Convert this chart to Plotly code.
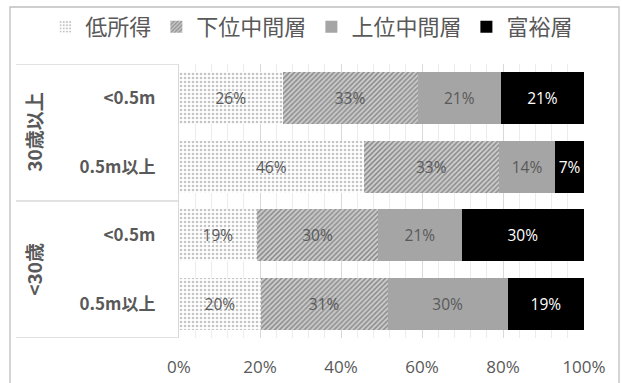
import plotly.graph_objects as go

# ---- data ----
rows = ["<0.5m", "0.5m以上", "<0.5m", "0.5m以上"]
groups = ["30歳以上", "<30歳"]
group_rows = [[0, 1], [2, 3]]
series_names = ["低所得", "下位中間層", "上位中間層", "富裕層"]
low = [25.6, 45.6, 19.2, 20.2]
lowmid = [33.3, 33.4, 30.0, 31.3]
upmid = [20.6, 13.9, 20.6, 29.7]
rich = [20.5, 7.1, 30.2, 18.8]
low_lbl = ["26%", "46%", "19%", "20%"]
lowmid_lbl = ["33%", "33%", "30%", "31%"]
upmid_lbl = ["21%", "14%", "21%", "30%"]
rich_lbl = ["21%", "7%", "30%", "19%"]
x_ticks = [0, 20, 40, 60, 80, 100]
x_ticktext = ["0%", "20%", "40%", "60%", "80%", "100%"]

FONT = "Noto Sans CJK JP, Noto Sans, sans-serif"
NUMFONT = "Open Sans, Noto Sans CJK JP, sans-serif"
GREY_TXT = "#595959"
LINE = "#d9d9d9"

ypos = list(range(len(rows)))

styles = [
    dict(color="white", pattern=dict(shape=".", fgcolor="#8c8c8c", bgcolor="white", size=4, solidity=0.35), tc=GREY_TXT),
    dict(color="white", pattern=dict(shape="/", fgcolor="#444444", bgcolor="#cfcfcf", size=3.5, solidity=0.45), tc=GREY_TXT),
    dict(color="#a5a5a5", pattern=None, tc=GREY_TXT),
    dict(color="#000000", pattern=None, tc="white"),
]
values = [low, lowmid, upmid, rich]
labels = [low_lbl, lowmid_lbl, upmid_lbl, rich_lbl]

fig = go.Figure()
for name, vals, lbl, st in zip(series_names, values, labels, styles):
    marker = dict(color=st["color"], line=dict(width=0))
    if st["pattern"] is not None:
        marker["pattern"] = st["pattern"]
    fig.add_trace(go.Bar(
        x=vals, y=ypos, orientation="h", name=name,
        marker=marker, text=lbl, textposition="inside",
        insidetextanchor="middle", textangle=0, constraintext="none",
        textfont=dict(family=NUMFONT, size=15.5, color=st["tc"]),
        hoverinfo="skip",
    ))

# divider lines in the category label area
n = len(rows)
bounds = [-0.5] + [group_rows[i][-1] + 0.5 for i in range(len(groups))]
for b in bounds:
    fig.add_shape(type="line", xref="paper", yref="y", x0=-0.4025, x1=0, y0=b, y1=b,
                  line=dict(color=LINE, width=1.3))

# group labels (rotated)
for g, rs in zip(groups, group_rows):
    fig.add_annotation(xref="paper", yref="y", x=-0.36, y=sum(rs) / len(rs),
                       xanchor="center", yanchor="middle",
                       text="<b>" + g + "</b>", textangle=-90, showarrow=False,
                       font=dict(family=FONT, size=19, color=GREY_TXT))

# chart border
fig.add_shape(type="rect", xref="paper", yref="paper",
              x0=-0.4173, x1=1.0864, y0=-0.3, y1=1.208,
              line=dict(color="#bfbfbf", width=1.3), fillcolor="rgba(0,0,0,0)", layer="below")

fig.update_layout(
    width=622, height=383,
    margin=dict(l=179, r=38, t=64, b=45, autoexpand=False),
    barmode="stack", bargap=0.24,
    paper_bgcolor="white", plot_bgcolor="white",
    font=dict(family=FONT, color=GREY_TXT),
    showlegend=True,
    legend=dict(orientation="h", xref="paper", x=-0.33, xanchor="left",
                yref="paper", y=1.135, yanchor="middle",
                font=dict(family=FONT, size=22, color=GREY_TXT),
                itemwidth=30, traceorder="normal", tracegroupgap=0,
                bgcolor="rgba(0,0,0,0)"),
    xaxis=dict(range=[0, 100], tickvals=x_ticks, ticktext=x_ticktext,
               showgrid=True, gridcolor=LINE, gridwidth=1,
               minor=dict(dtick=4, showgrid=True, gridcolor="#ececec", gridwidth=1),
               zeroline=False, showline=False,
               ticks="outside", ticklen=14, tickcolor="rgba(0,0,0,0)",
               tickfont=dict(family=NUMFONT, size=17, color=GREY_TXT), fixedrange=True),
    yaxis=dict(range=[n - 0.5, -0.5], tickvals=ypos,
               ticktext=["<b>" + r + "</b>" for r in rows],
               showgrid=False, zeroline=False, showline=True, linecolor=LINE, linewidth=1.3,
               ticks="outside", ticklen=19, tickcolor="rgba(0,0,0,0)",
               tickfont=dict(family=FONT, size=17, color=GREY_TXT), fixedrange=True),
)

fig.write_html("out.html")
